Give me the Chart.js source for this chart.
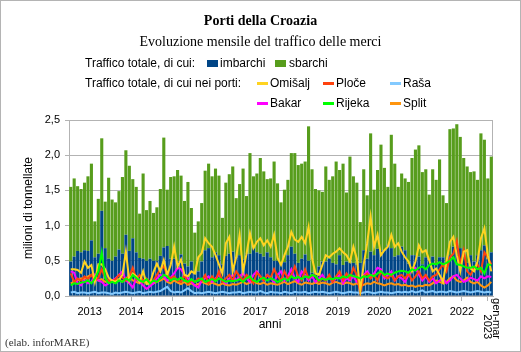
<!DOCTYPE html>
<html><head><meta charset="utf-8">
<script src="https://cdn.jsdelivr.net/npm/chart.js@4"></script>
<style>
html,body{margin:0;padding:0;background:#fff;}
#wrap{position:relative;width:521px;height:352px;overflow:hidden;}
canvas{position:absolute;left:0;top:0;}
.lg{position:absolute;font:12px "Liberation Sans",Arial,sans-serif;color:#000;white-space:nowrap;line-height:14px;}
.sw{position:absolute;}
</style></head>
<body><div id="wrap"><canvas id="c" width="521" height="352"></canvas><div id="legend"></div></div>
<script>
// ---- DATA (milioni di tonnellate, mensile gen 2013 - mar 2023) ----
const anni = ['2013','2014','2015','2016','2017','2018','2019','2020','2021','2022'];
const ultimoPeriodo = ['gen-mar','2023'];
const totale = [
 1.55,1.67,1.56,1.52,1.61,1.70,1.88,1.06,1.38,2.24,1.34,1.68,
 1.37,1.33,1.49,1.69,2.07,1.85,1.66,1.55,1.17,1.74,1.22,1.35,
 1.18,1.26,1.52,2.25,1.51,1.69,1.70,1.79,1.71,1.35,1.62,1.25,
 0.90,1.06,1.32,1.78,1.88,1.70,1.81,1.71,1.11,1.61,1.73,1.84,
 1.39,1.59,1.81,1.42,2.03,1.70,1.74,1.96,1.77,1.66,1.67,1.91,
 1.60,1.33,1.51,1.65,2.03,2.03,1.86,1.88,1.91,2.41,1.80,1.52,
 1.50,1.48,1.84,1.65,1.70,1.91,1.79,1.88,1.47,1.98,1.70,1.61,
 1.05,1.80,1.43,2.31,1.51,1.79,2.15,1.82,1.55,2.29,1.88,1.55,
 1.74,1.67,1.62,1.96,2.08,2.14,1.76,1.80,1.44,1.80,1.65,1.94,
 1.43,1.32,2.37,2.38,2.44,2.26,1.96,1.84,1.76,1.77,1.65,2.31,
 2.22,1.67,1.98];
const imbarchi = [
 0.49,0.56,0.64,0.62,0.65,0.64,0.79,0.55,0.60,1.21,0.68,0.53,
 0.50,0.56,0.66,0.60,0.87,0.64,0.82,0.62,0.54,0.53,0.50,0.53,
 0.50,0.50,0.57,0.69,0.71,0.53,0.53,0.49,0.59,0.46,0.42,0.49,
 0.31,0.35,0.49,0.65,0.68,0.55,0.62,0.58,0.45,0.57,0.60,0.63,
 0.55,0.58,0.52,0.60,0.60,0.68,0.62,0.60,0.56,0.62,0.55,0.50,
 0.50,0.47,0.48,0.58,0.70,0.60,0.47,0.53,0.59,0.50,0.33,0.31,
 0.42,0.49,0.49,0.53,0.47,0.45,0.58,0.44,0.49,0.47,0.47,0.45,
 0.47,0.65,0.53,0.63,0.58,0.67,0.65,0.65,0.72,0.68,0.56,0.58,
 0.70,0.65,0.46,0.58,0.58,0.56,0.45,0.55,0.50,0.56,0.45,0.55,
 0.55,0.42,0.58,0.70,0.72,0.68,0.56,0.47,0.58,0.49,0.58,0.65,
 0.72,0.53,0.62];
const omisalj = [
 0.38,0.38,0.37,0.33,0.49,0.40,0.44,0.20,0.45,0.45,0.38,0.26,
 0.22,0.20,0.23,0.30,0.63,0.22,0.32,0.28,0.20,0.35,0.17,0.18,
 0.34,0.46,0.35,0.51,0.30,0.44,0.70,0.42,0.52,0.30,0.28,0.35,
 0.32,0.55,0.61,0.82,0.75,0.70,0.58,0.45,0.32,0.75,0.84,0.35,
 0.55,0.87,0.35,0.60,0.89,0.68,0.77,0.82,0.72,0.79,0.70,0.87,
 0.54,0.44,0.58,0.70,0.91,0.80,0.77,0.84,0.75,0.98,0.54,0.32,
 0.30,0.44,0.58,0.55,0.60,0.63,0.68,0.62,0.58,0.49,0.70,0.53,
 0.08,0.45,0.75,1.13,0.70,0.87,0.58,0.65,0.70,0.87,0.70,0.75,
 0.63,0.55,0.49,0.35,0.49,0.72,0.62,0.65,0.51,0.35,0.39,0.30,
 0.20,0.49,0.77,0.84,0.58,0.35,0.63,0.65,0.39,0.35,0.49,0.82,
 0.96,0.58,0.35];
const ploce = [
 0.32,0.20,0.25,0.22,0.28,0.24,0.30,0.22,0.26,0.38,0.25,0.22,
 0.20,0.24,0.30,0.26,0.22,0.28,0.40,0.24,0.30,0.22,0.25,0.20,
 0.22,0.30,0.38,0.42,0.30,0.25,0.28,0.22,0.20,0.30,0.18,0.22,
 0.20,0.25,0.22,0.30,0.18,0.28,0.22,0.35,0.20,0.25,0.30,0.22,
 0.35,0.28,0.22,0.30,0.25,0.18,0.33,0.28,0.22,0.30,0.26,0.38,
 0.28,0.22,0.35,0.25,0.30,0.42,0.28,0.22,0.38,0.25,0.30,0.28,
 0.20,0.25,0.22,0.30,0.20,0.28,0.35,0.22,0.32,0.25,0.40,0.30,
 0.05,0.28,0.32,0.25,0.30,0.22,0.35,0.28,0.25,0.30,0.22,0.28,
 0.30,0.25,0.32,0.22,0.28,0.35,0.25,0.30,0.22,0.28,0.30,0.38,
 0.45,0.35,0.55,0.60,0.78,0.45,0.65,0.35,0.30,0.40,0.45,0.35,
 0.62,0.55,0.45];
const rasa = [
 0.05,0.06,0.04,0.05,0.05,0.04,0.05,0.06,0.04,0.05,0.05,0.04,
 0.03,0.05,0.04,0.05,0.06,0.05,0.04,0.05,0.06,0.04,0.05,0.06,
 0.05,0.06,0.07,0.10,0.13,0.07,0.05,0.06,0.05,0.08,0.11,0.07,
 0.04,0.05,0.04,0.05,0.06,0.05,0.04,0.05,0.06,0.05,0.04,0.05,
 0.05,0.06,0.04,0.05,0.06,0.05,0.05,0.07,0.05,0.04,0.06,0.05,
 0.05,0.04,0.06,0.05,0.04,0.06,0.05,0.05,0.06,0.04,0.05,0.06,
 0.05,0.06,0.05,0.04,0.05,0.06,0.05,0.04,0.05,0.06,0.05,0.05,
 0.04,0.05,0.06,0.05,0.04,0.05,0.06,0.05,0.05,0.04,0.05,0.06,
 0.05,0.06,0.05,0.07,0.05,0.06,0.08,0.05,0.06,0.07,0.05,0.06,
 0.06,0.05,0.07,0.06,0.05,0.06,0.07,0.06,0.05,0.06,0.07,0.06,
 0.05,0.06,0.05];
const bakar = [
 0.35,0.33,0.18,0.15,0.22,0.18,0.20,0.30,0.22,0.20,0.15,0.18,
 0.22,0.25,0.30,0.35,0.22,0.18,0.12,0.25,0.20,0.15,0.10,0.14,
 0.18,0.25,0.30,0.28,0.22,0.26,0.32,0.40,0.38,0.30,0.25,0.20,
 0.15,0.12,0.22,0.25,0.28,0.20,0.25,0.30,0.22,0.18,0.25,0.30,
 0.22,0.28,0.32,0.25,0.20,0.30,0.35,0.28,0.22,0.30,0.25,0.20,
 0.30,0.35,0.22,0.28,0.38,0.25,0.20,0.35,0.30,0.22,0.28,0.20,
 0.25,0.30,0.22,0.28,0.20,0.25,0.30,0.18,0.25,0.22,0.28,0.20,
 0.25,0.30,0.35,0.28,0.32,0.40,0.38,0.25,0.30,0.35,0.22,0.28,
 0.25,0.20,0.30,0.38,0.40,0.30,0.22,0.28,0.20,0.25,0.18,0.22,
 0.25,0.18,0.22,0.28,0.30,0.25,0.20,0.22,0.26,0.24,0.22,0.28,
 0.25,0.28,0.27];
const rijeka = [
 0.15,0.18,0.17,0.19,0.20,0.22,0.18,0.25,0.35,0.62,0.25,0.18,
 0.20,0.18,0.22,0.20,0.25,0.22,0.30,0.26,0.22,0.20,0.24,0.18,
 0.22,0.20,0.25,0.30,0.28,0.22,0.25,0.23,0.26,0.22,0.20,0.24,
 0.20,0.22,0.25,0.20,0.22,0.24,0.21,0.25,0.23,0.20,0.22,0.21,
 0.22,0.24,0.20,0.25,0.28,0.22,0.20,0.24,0.26,0.22,0.25,0.23,
 0.20,0.22,0.25,0.22,0.28,0.25,0.27,0.24,0.28,0.26,0.30,0.28,
 0.22,0.25,0.23,0.25,0.24,0.26,0.25,0.28,0.26,0.30,0.28,0.27,
 0.25,0.28,0.27,0.30,0.28,0.32,0.35,0.30,0.32,0.30,0.33,0.35,
 0.36,0.35,0.33,0.38,0.36,0.40,0.42,0.38,0.44,0.46,0.45,0.48,
 0.45,0.47,0.50,0.55,0.45,0.44,0.42,0.40,0.40,0.42,0.38,0.40,
 0.32,0.45,0.44];
const split = [
 0.18,0.20,0.22,0.25,0.24,0.28,0.30,0.25,0.22,0.24,0.20,0.22,
 0.20,0.22,0.24,0.20,0.25,0.28,0.22,0.20,0.18,0.20,0.19,0.21,
 0.18,0.20,0.22,0.25,0.20,0.18,0.22,0.19,0.17,0.20,0.16,0.18,
 0.15,0.17,0.20,0.18,0.16,0.19,0.17,0.15,0.18,0.16,0.15,0.17,
 0.16,0.18,0.20,0.17,0.19,0.21,0.18,0.17,0.19,0.16,0.18,0.17,
 0.16,0.18,0.20,0.17,0.19,0.21,0.18,0.16,0.19,0.18,0.17,0.19,
 0.17,0.19,0.18,0.16,0.19,0.20,0.18,0.17,0.19,0.18,0.16,0.18,
 0.14,0.16,0.18,0.17,0.20,0.18,0.17,0.15,0.17,0.18,0.16,0.17,
 0.15,0.16,0.14,0.15,0.13,0.15,0.14,0.16,0.15,0.18,0.22,0.20,
 0.18,0.20,0.25,0.28,0.22,0.20,0.22,0.26,0.20,0.18,0.20,0.15,
 0.12,0.15,0.20];
const yTicks = [0,0.5,1,1.5,2,2.5];

// ---- build ----
const N = totale.length;
const sbarchi = totale.map((t,i)=>+(t - imbarchi[i]).toFixed(2));
const pts = arr => arr.map((v,i)=>({x:i+0.5,y:v}));
const bordiAnno = anni.map((a,i)=>i*12).concat([anni.length*12, N]);
const centriAnno = anni.map((a,i)=>i*12+6);

const serieLinee = [
  {label:'Rijeka', data:rijeka, color:'#00FF00', order:1},
  {label:'Omišalj', data:omisalj, color:'#FFD320', order:2},
  {label:'Ploče', data:ploce, color:'#FF420E', order:3},
  {label:'Bakar', data:bakar, color:'#FF00FF', order:4},
  {label:'Split', data:split, color:'#FF950E', order:5},
  {label:'Raša', data:rasa, color:'#83CAFF', order:6}
];
const datasets = [
  {type:'bar', label:'imbarchi', data:pts(imbarchi), backgroundColor:'#004586', stack:'tot', order:10,
   barPercentage:0.9, categoryPercentage:1, borderWidth:0},
  {type:'bar', label:'sbarchi', data:pts(sbarchi), backgroundColor:'#579D1C', stack:'tot', order:11,
   barPercentage:0.9, categoryPercentage:1, borderWidth:0}
].concat(serieLinee.map(s=>({type:'line', label:s.label, data:pts(s.data), borderColor:s.color,
   backgroundColor:s.color, borderWidth:2, pointRadius:0, tension:0, order:s.order})));

const SANS = '"Liberation Sans", Arial, sans-serif';
const SERIF = '"Liberation Serif", "Times New Roman", serif';

const extra = {
  id:'extra',
  beforeDraw(c){const x=c.ctx; x.save(); x.fillStyle='#fff'; x.fillRect(0,0,c.width,c.height); x.restore();},
  beforeDatasetsDraw(c){
    const x=c.ctx,a=c.chartArea; x.save(); x.strokeStyle='#b3b3b3'; x.lineWidth=1;
    x.strokeRect(Math.round(a.left)+0.5,Math.round(a.top)+0.5,Math.round(a.right-a.left)-1,Math.round(a.bottom-a.top)-1);
    x.restore();
  },
  afterDraw(c){
    const x=c.ctx, xs=c.scales.x2;
    x.save();
    x.strokeStyle='#b4b4b4'; x.lineWidth=1; x.strokeRect(0.5,0.5,c.width-1,c.height-1);
    x.fillStyle='#000';
    x.font='12px '+SANS; x.textAlign='center'; x.textBaseline='alphabetic';
    x.fillText('anni', 270, 328);
    const px = xs.getPixelForValue(N-1.5);
    x.font='11px '+SANS;
    x.save(); x.translate(px+4, 339); x.rotate(Math.PI/2);
    x.textAlign='right'; x.textBaseline='middle';
    x.fillText(ultimoPeriodo[0], 0, -4);
    x.fillText(ultimoPeriodo[1], 0, 5);
    x.restore();
    x.font='11px '+SERIF; x.fillStyle='#333'; x.textAlign='left';
    x.fillText('(elab. inforMARE)', 5, 346);
    x.restore();
  }
};

new Chart(document.getElementById('c'), {
  data:{datasets},
  plugins:[extra],
  options:{
    responsive:false, animation:false, devicePixelRatio:1,
    layout:{padding:0},
    plugins:{
      legend:{display:false}, tooltip:{enabled:false},
      title:{display:true, text:'Porti della Croazia', color:'#000',
        font:{family:SERIF,size:14,weight:'bold'}, padding:{top:13,bottom:3}},
      subtitle:{display:true, text:'Evoluzione mensile del traffico delle merci', color:'#000',
        font:{family:SERIF,size:14}, padding:{top:1,bottom:69.4}}
    },
    scales:{
      x:{type:'linear', position:'bottom', min:0, max:N, weight:0, offset:false,
        afterBuildTicks:s=>{s.ticks=bordiAnno.map(v=>({value:v}));},
        ticks:{display:false},
        grid:{drawOnChartArea:false, drawTicks:true, tickLength:5, color:'#b3b3b3'},
        border:{color:'#b3b3b3'}},
      x2:{type:'linear', position:'bottom', min:0, max:N, weight:1, offset:false,
        afterBuildTicks:s=>{s.ticks=centriAnno.map(v=>({value:v}));},
        ticks:{autoSkip:false, maxRotation:0, minRotation:0, padding:4, color:'#000',
          font:{family:SANS,size:11}, callback:(v,i)=>anni[i]},
        grid:{display:false, drawTicks:false}, border:{display:false},
        afterFit:s=>{s.height=51;}},
      y:{min:0, max:2.5,
        afterBuildTicks:s=>{s.ticks=yTicks.map(v=>({value:v}));},
        ticks:{padding:5, color:'#000', font:{family:SANS,size:11},
          callback:v=>v.toFixed(1).replace('.',',')},
        grid:{color:'#b3b3b3', tickLength:4}, border:{color:'#b3b3b3'},
        title:{display:true, text:'milioni di tonnellate', color:'#000',
          font:{family:SANS,size:12}, padding:{top:21,bottom:0}},
        afterFit:s=>{s.width=69;}},
      yR:{position:'right', min:0, max:2.5, ticks:{display:false}, grid:{display:false},
        border:{display:false}, afterFit:s=>{s.width=28;}}
    }
  }
});

// ---- legenda (HTML) ----
const lg = document.getElementById('legend');
function txt(t,x,y){const d=document.createElement('div');d.className='lg';d.textContent=t;d.style.left=x+'px';d.style.top=y+'px';lg.appendChild(d);}
function sw(c,x,y,w,h){const d=document.createElement('div');d.className='sw';d.style.background=c;d.style.left=x+'px';d.style.top=y+'px';d.style.width=w+'px';d.style.height=h+'px';lg.appendChild(d);}
txt('Traffico totale, di cui:',85,56);
sw('#004586',207,60,11,7); txt('imbarchi',220,56);
sw('#579D1C',275,60,11,7); txt('sbarchi',289,56);
txt('Traffico totale, di cui nei porti:',85,76);
const posL = {'Omišalj':[257,82],'Ploče':[323,82],'Raša':[390,82],'Bakar':[257,102],'Rijeka':[323,102],'Split':[390,102]};
['Omišalj','Ploče','Raša','Bakar','Rijeka','Split'].forEach(n=>{
  const s=serieLinee.find(z=>z.label===n); const p=posL[n];
  sw(s.color,p[0],p[1],11,3); txt(n,p[0]+13,p[1]-6);
});
</script>
</body></html>
